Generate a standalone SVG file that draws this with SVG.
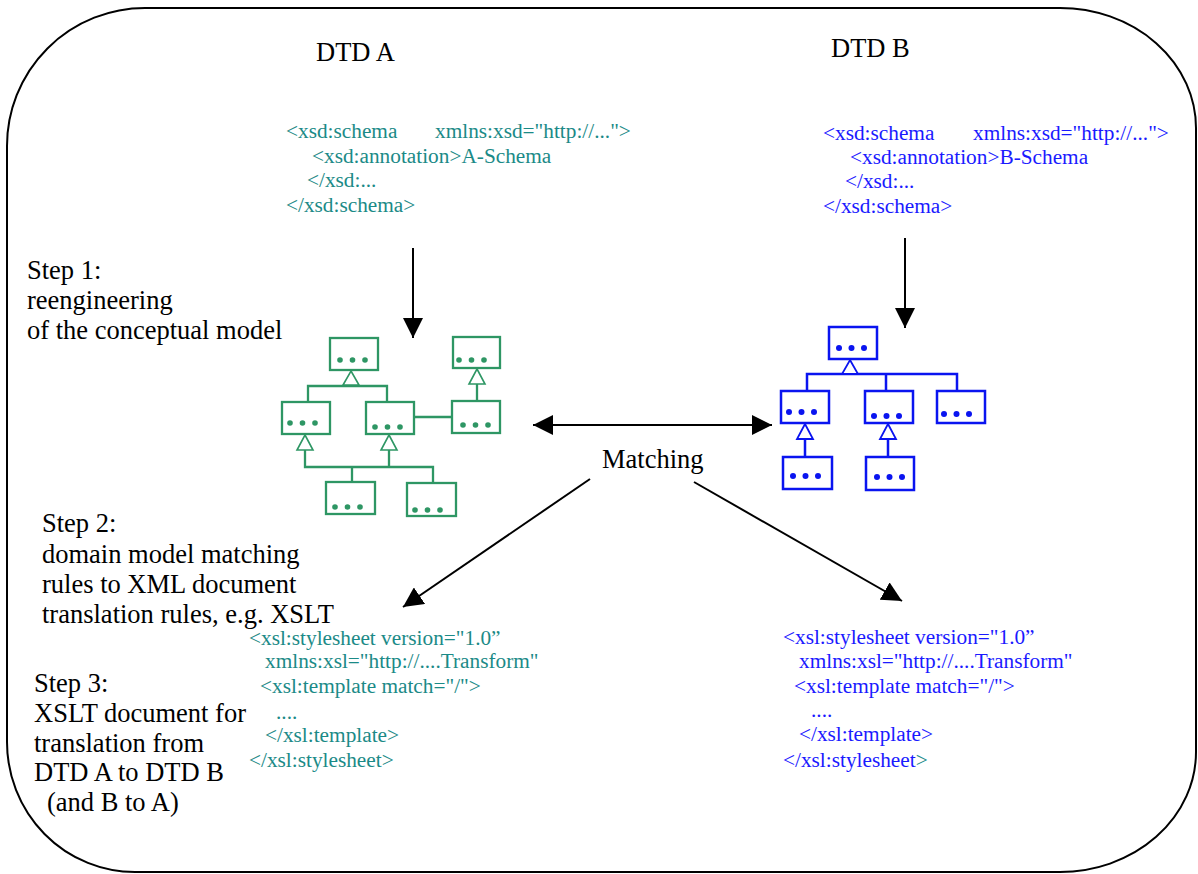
<svg xmlns="http://www.w3.org/2000/svg" width="1198" height="874" viewBox="0 0 1198 874">
  <style>
    .lbl { font-family: "Liberation Serif", "Times New Roman", serif; font-size: 26.5px; fill: #000; }
    .code { font-family: "Liberation Serif", "Times New Roman", serif; font-size: 21.3px; }
    .teal { fill: #1b8a87; }
    .blue { fill: #1a1aff; }
    .gbox { fill: #fff; stroke: #2e9664; stroke-width: 2.3; }
    .bbox { fill: #fff; stroke: #0a14f0; stroke-width: 2.5; }
    .gdot { fill: #2e9664; }
    .bdot { fill: #0a14f0; }
    .glink { fill: none; stroke: #2e9664; stroke-width: 2.3; }
    .blink { fill: none; stroke: #0a14f0; stroke-width: 2.5; }
    .gtri { fill: #fff; stroke: #2e9664; stroke-width: 1.6; }
    .btri { fill: #fff; stroke: #0a14f0; stroke-width: 1.8; }
    .flow { fill: none; stroke: #000; stroke-width: 2; }
  </style>
  <defs>
    <marker id="head" markerUnits="userSpaceOnUse" markerWidth="21" markerHeight="20" refX="20" refY="10" orient="auto-start-reverse" viewBox="0 0 21 20">
      <path d="M0,0 L20,10 L0,20 Z" fill="#000"/>
    </marker>
    <g id="g3dots" class="gdot">
      <circle cx="0" cy="0" r="2.8"/><circle cx="12.5" cy="0" r="2.8"/><circle cx="25" cy="0" r="2.8"/>
    </g>
    <g id="b3dots" class="bdot">
      <circle cx="0" cy="0" r="3"/><circle cx="12.5" cy="0" r="3"/><circle cx="25" cy="0" r="3"/>
    </g>
  </defs>

  <rect width="1198" height="874" fill="#fff"/>

  <!-- enclosing rounded frame -->
  <path id="frame" d="M145,8 H1060 A136,120 0 0 1 1196,128 V752 A136,120 0 0 1 1060,872 H135 A128,130 0 0 1 7,742 V146 A138,138 0 0 1 145,8 Z" fill="none" stroke="#000" stroke-width="2"/>

  <!-- titles -->
  <g id="title-a"><text class="lbl" x="316" y="61">DTD A</text></g>
  <g id="title-b"><text class="lbl" x="831" y="57">DTD B</text></g>

  <!-- schema listings -->
  <g id="schema-a" class="code teal">
    <text x="286" y="138">&lt;xsd:schema</text>
    <text x="435" y="138">xmlns:xsd="http://..."&gt;</text>
    <text x="312" y="163">&lt;xsd:annotation&gt;A-Schema</text>
    <text x="307" y="187">&lt;/xsd:...</text>
    <text x="286" y="212">&lt;/xsd:schema&gt;</text>
  </g>
  <g id="schema-b" class="code blue">
    <text x="823" y="140">&lt;xsd:schema</text>
    <text x="973" y="140">xmlns:xsd="http://..."&gt;</text>
    <text x="850" y="164">&lt;xsd:annotation&gt;B-Schema</text>
    <text x="845" y="188">&lt;/xsd:...</text>
    <text x="823" y="213">&lt;/xsd:schema&gt;</text>
  </g>

  <!-- step descriptions -->
  <g id="step-1" class="lbl">
    <text x="27" y="279">Step 1:</text>
    <text x="27" y="309">reengineering</text>
    <text x="27" y="339">of the conceptual model</text>
  </g>
  <g id="step-2" class="lbl">
    <text x="42" y="532">Step 2:</text>
    <text x="42" y="563">domain model matching</text>
    <text x="42" y="593">rules to XML document</text>
    <text x="42" y="623">translation rules, e.g. XSLT</text>
  </g>
  <g id="step-3" class="lbl">
    <text x="34" y="692">Step 3:</text>
    <text x="34" y="722">XSLT document for</text>
    <text x="34" y="752">translation from</text>
    <text x="34" y="781">DTD A to DTD B</text>
    <text x="47" y="811">(and B to A)</text>
  </g>

  <g id="matching"><text class="lbl" x="602" y="468">Matching</text></g>

  <!-- stylesheet listings -->
  <g id="xslt-a" class="code teal">
    <text x="249" y="645">&lt;xsl:stylesheet version="1.0”</text>
    <text x="265" y="668">xmlns:xsl="http://....Transform"</text>
    <text x="260" y="693">&lt;xsl:template match="/"&gt;</text>
    <text x="276" y="719">....</text>
    <text x="265" y="742">&lt;/xsl:template&gt;</text>
    <text x="249" y="767">&lt;/xsl:stylesheet&gt;</text>
  </g>
  <g id="xslt-b" class="code blue">
    <text x="783" y="644">&lt;xsl:stylesheet version="1.0”</text>
    <text x="799" y="668">xmlns:xsl="http://....Transform"</text>
    <text x="794" y="693">&lt;xsl:template match="/"&gt;</text>
    <text x="811" y="717">....</text>
    <text x="799" y="741">&lt;/xsl:template&gt;</text>
    <text x="783" y="767">&lt;/xsl:stylesheet<tspan class="teal">&gt;</tspan></text>
  </g>

  <!-- conceptual model A -->
  <g id="model-a">
    <g id="a1"><rect class="gbox" x="330" y="338" width="48" height="32"/><use href="#g3dots" x="340" y="360"/></g>
    <g id="a2"><rect class="gbox" x="453" y="337" width="47" height="31"/><use href="#g3dots" x="459" y="360"/></g>
    <g id="a3"><rect class="gbox" x="282" y="402" width="48" height="32"/><use href="#g3dots" x="290" y="423"/></g>
    <g id="a4"><rect class="gbox" x="366" y="402" width="48" height="32"/><use href="#g3dots" x="375" y="427"/></g>
    <g id="a5"><rect class="gbox" x="452" y="401" width="48" height="32"/><use href="#g3dots" x="463" y="425"/></g>
    <g id="a6"><rect class="gbox" x="326" y="482" width="49" height="32"/><use href="#g3dots" x="335" y="507"/></g>
    <g id="a7"><rect class="gbox" x="407" y="483" width="49" height="33"/><use href="#g3dots" x="415" y="510"/></g>
  </g>

  <!-- conceptual model B -->
  <g id="model-b">
    <g id="b1"><rect class="bbox" x="829" y="327" width="48" height="32"/><use href="#b3dots" x="839" y="348"/></g>
    <g id="b2"><rect class="bbox" x="781" y="391" width="48" height="32"/><use href="#b3dots" x="789" y="412"/></g>
    <g id="b3"><rect class="bbox" x="865" y="391" width="48" height="32"/><use href="#b3dots" x="874" y="416"/></g>
    <g id="b4"><rect class="bbox" x="937" y="391" width="48" height="32"/><use href="#b3dots" x="944" y="414"/></g>
    <g id="b5"><rect class="bbox" x="783" y="457" width="49" height="32"/><use href="#b3dots" x="793" y="476"/></g>
    <g id="b6"><rect class="bbox" x="866" y="457" width="48" height="33"/><use href="#b3dots" x="877" y="477"/></g>
  </g>

  <g id="connectors">
    <!-- model A links -->
    <path class="glink" d="M308,402 V386 H387 V402"/>
    <path class="glink" d="M414,417 H452"/>
    <path class="glink" d="M477,384 V401"/>
    <path class="glink" d="M305,450 V467 H433 V483 M389,450 V467 M352,467 V482"/>
    <path class="gtri" d="M351,371 L359,385 L343,385 Z"/>
    <path class="gtri" d="M477,369 L485,384 L469,384 Z"/>
    <path class="gtri" d="M305,435 L313,450 L297,450 Z"/>
    <path class="gtri" d="M389,435 L397,450 L381,450 Z"/>

    <!-- model B links -->
    <path class="blink" d="M807,391 V374 H957 V391 M886,374 V391"/>
    <path class="blink" d="M805,439 V457 M888,439 V457"/>
    <path class="btri" d="M850,360 L858,374 L842,374 Z"/>
    <path class="btri" d="M805,424 L813,439 L797,439 Z"/>
    <path class="btri" d="M888,424 L896,439 L880,439 Z"/>

    <!-- process arrows -->
    <line class="flow" x1="413" y1="248" x2="413" y2="338" marker-end="url(#head)"/>
    <line class="flow" x1="905" y1="238" x2="905" y2="328" marker-end="url(#head)"/>
    <line class="flow" x1="533" y1="425" x2="772" y2="425" marker-start="url(#head)" marker-end="url(#head)"/>
    <line class="flow" x1="590" y1="479" x2="403" y2="607" marker-end="url(#head)"/>
    <line class="flow" x1="694" y1="482" x2="902" y2="601" marker-end="url(#head)"/>
  </g>
</svg>
